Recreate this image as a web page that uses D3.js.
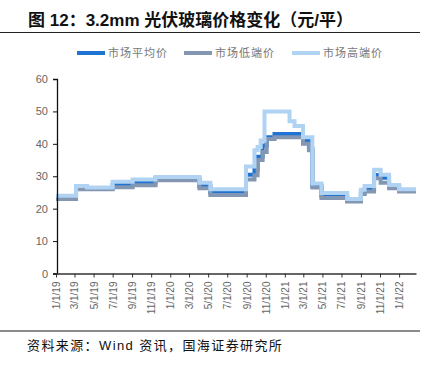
<!DOCTYPE html>
<html>
<head>
  <meta charset="utf-8">
  <title>3.2mm 光伏玻璃价格变化</title>
  <style>
    body { margin: 0; background: #fff; }
    svg { display: block; }
  </style>
</head>
<body>
  <div id="chart"></div>

  <script src="https://d3js.org/d3.v7.min.js"></script>
  <script>
    // Change points (step data), shared by the three series
    const dates = [
      "2019-01-01", "2019-03-06", "2019-04-10", "2019-07-01", "2019-09-03", "2019-11-15",
      "2020-04-03", "2020-05-08", "2020-08-30", "2020-09-26", "2020-10-06", "2020-10-16",
      "2020-10-22", "2020-10-28", "2020-11-04", "2020-11-29", "2021-01-16", "2021-02-01",
      "2021-02-28", "2021-03-19", "2021-03-30", "2021-04-28", "2021-07-19", "2021-09-01",
      "2021-09-13", "2021-10-13", "2021-11-03", "2021-11-30", "2022-01-01", "2022-02-24"
    ];
    const avgPrice = [
      23.5, 26.5, 26.2, 27.3, 28, 29.3,
      27, 25, 30.5, 32, 36, 36,
      39.5, 39.5, 42, 43, 43, 43,
      41, 38.5, 27, 24, 22.6, 25,
      26, 30.4, 29.5, 27, 25.7, 25.7
    ];
    const lowPrice = [
      23, 26, 26, 26.6, 27.2, 28.8,
      26.3, 24.2, 29, 30.3, 35, 35,
      37.5, 37.5, 41.5, 42, 42, 42,
      40, 38, 26.5, 23.3, 22.2, 24.5,
      25.3, 29.4, 28, 26.3, 25.3, 25.3
    ];
    const highPrice = [
      24, 27, 26.5, 28.3, 29, 29.8,
      28, 26, 33, 38, 39, 41,
      41, 50, 50, 50, 47, 45.5,
      42, 42, 27.8, 24.8, 23, 25.8,
      27, 32, 30.5, 27.3, 26, 26
    ];
    const yTicks = [0, 10, 20, 30, 40, 50, 60];

    const series = [
      { name: "市场平均价", values: avgPrice, color: "#1f73d3" },
      { name: "市场低端价", values: lowPrice, color: "#8397b2" },
      { name: "市场高端价", values: highPrice, color: "#b0d2f3" }
    ];

    const parse = d3.timeParse("%Y-%m-%d");
    const parsedDates = dates.map(parse);

    const width = 440, height = 369;
    const svg = d3.select("#chart")
      .append("svg")
      .attr("width", width)
      .attr("height", height);

    // Title and rule
    svg.append("text")
      .attr("x", 28)
      .attr("y", 26)
      .attr("font-family", "'Liberation Sans', 'Noto Sans CJK SC', sans-serif")
      .attr("font-weight", "bold")
      .attr("font-size", 17)
      .attr("fill", "#111")
      .text("图 12：3.2mm 光伏玻璃价格变化（元/平）");

    svg.append("line")
      .attr("x1", 0).attr("x2", 420)
      .attr("y1", 32.5).attr("y2", 32.5)
      .attr("stroke", "#222")
      .attr("stroke-width", 1);

    // Scales
    const x = d3.scaleTime()
      .domain([parsedDates[0], parsedDates[parsedDates.length - 1]])
      .range([56, 416]);

    const y = d3.scaleLinear()
      .domain([0, 60])
      .range([273.5, 79]);

    // Lines (avg first, high on top)
    const line = d3.line()
      .x((d, i) => x(parsedDates[i]))
      .y(d => y(d))
      .curve(d3.curveStepAfter);

    svg.append("g")
      .selectAll("path")
      .data(series)
      .join("path")
      .attr("fill", "none")
      .attr("stroke", d => d.color)
      .attr("stroke-width", 4)
      .attr("d", d => line(d.values));

    // Y axis
    const yAxis = svg.append("g")
      .attr("transform", "translate(57,0)")
      .call(d3.axisLeft(y).tickValues(yTicks).tickSize(4).tickPadding(5));
    yAxis.select(".domain").attr("stroke", "#111").attr("stroke-width", 1.3);
    yAxis.selectAll(".tick line").attr("stroke", "#111");
    yAxis.selectAll("text")
      .attr("font-family", "'Liberation Sans', Arial, sans-serif")
      .attr("font-size", 11)
      .attr("fill", "#666");

    // X axis
    const xAxis = svg.append("g")
      .attr("transform", "translate(0,273.5)")
      .call(d3.axisBottom(x)
        .ticks(d3.timeMonth.every(2))
        .tickFormat(d3.timeFormat("%-m/%-d/%y"))
        .tickSize(4)
        .tickSizeOuter(0));
    xAxis.select(".domain").attr("stroke", "#333").attr("stroke-width", 1.3);
    xAxis.selectAll(".tick line").attr("stroke", "#333");
    xAxis.selectAll("text")
      .attr("font-family", "'Liberation Sans', Arial, sans-serif")
      .attr("font-size", 10)
      .attr("fill", "#666")
      .attr("text-anchor", "end")
      .attr("dy", "0.35em")
      .attr("transform", "translate(0,8) rotate(-90)")
      .attr("x", 0)
      .attr("y", 0);

    // Legend
    const legendX = [77, 184, 292];
    const legend = svg.append("g")
      .selectAll("g")
      .data(series)
      .join("g")
      .attr("transform", (d, i) => `translate(${legendX[i]},53)`);
    legend.append("line")
      .attr("x1", 0).attr("x2", 28)
      .attr("stroke", d => d.color)
      .attr("stroke-width", 4);
    legend.append("text")
      .attr("x", 31)
      .attr("y", 4)
      .attr("font-family", "'Noto Sans CJK SC', sans-serif")
      .attr("font-size", 11)
      .attr("letter-spacing", 1)
      .attr("fill", "#777")
      .text(d => d.name);

    // Source footer
    svg.append("line")
      .attr("x1", 0).attr("x2", 420)
      .attr("y1", 331).attr("y2", 331)
      .attr("stroke", "#8a8a8a")
      .attr("stroke-width", 2);

    svg.append("text")
      .attr("x", 27)
      .attr("y", 350)
      .attr("font-family", "'Liberation Sans', 'Noto Sans CJK SC', sans-serif")
      .attr("font-size", 13)
      .attr("letter-spacing", 1.4)
      .attr("fill", "#111")
      .text("资料来源：Wind 资讯，国海证券研究所");
  </script>
</body>
</html>
